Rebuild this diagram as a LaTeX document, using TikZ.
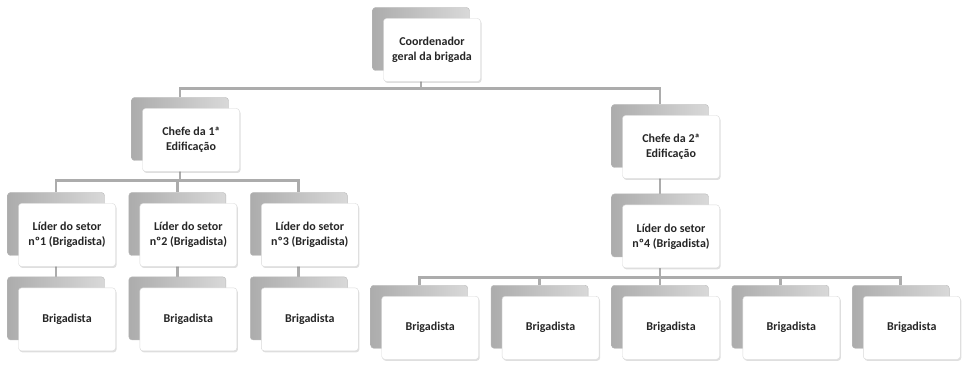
\documentclass[tikz,border=0pt]{standalone}
\usepackage{fontspec}
\setmainfont{Carlito}
\usetikzlibrary{positioning,calc,shadows,backgrounds}

\begin{document}
\begin{tikzpicture}[
  x=1pt, y=-1pt,
  font=\bfseries\fontsize{12}{15}\selectfont,
  card/.style={draw=gray!30, fill=white, rounded corners=3pt, align=center, text=black!85,
    minimum width=97pt, minimum height=63pt, inner sep=2pt,
    general shadow={shadow xshift=-11pt, shadow yshift=11pt, left color=gray!65, right color=gray!30, draw=gray!55},
    drop shadow={shadow xshift=1pt, shadow yshift=-1.5pt, opacity=0.25}},
  conn/.style={draw=gray!65, line width=2.8pt}
]
\useasboundingbox (0,0) rectangle (962,371);

% ---- top ----
\node[card] (geral) at (432,50) {Coordenador\\geral da brigada};

% ---- chefes ----
\node[card] (chefe1) at (191,140) {Chefe da 1ª\\Edificação};
\node[card] (chefe2) at (671,147) {Chefe da 2ª\\Edificação};

% ---- lideres ----
\node[card] (lider1) at (67,235) {Líder do setor\\nº1 (Brigadista)};
\node[card, right=24pt of lider1] (lider2) {Líder do setor\\nº2 (Brigadista)};
\node[card, right=24pt of lider2] (lider3) {Líder do setor\\nº3 (Brigadista)};
\node[card, below=26pt of chefe2] (lider4) {Líder do setor\\nº4 (Brigadista)};

% ---- brigadistas ----
\node[card, below=21pt of lider1] (brig1) {Brigadista};
\node[card, below=21pt of lider2] (brig2) {Brigadista};
\node[card, below=21pt of lider3] (brig3) {Brigadista};
\node[card, below=28pt of lider4] (brig6) {Brigadista};
\node[card, left=23pt of brig6] (brig5) {Brigadista};
\node[card, left=23pt of brig5] (brig4) {Brigadista};
\node[card, right=23pt of brig6] (brig7) {Brigadista};
\node[card, right=23pt of brig7] (brig8) {Brigadista};

% ---- connectors ----
\begin{scope}[on background layer]
\foreach \c in {chefe1,chefe2}
  \draw[conn] ($(geral.south)+(-11,-11)$) -- ++(0,18) -| ($(\c.north)+(-11,-11)$);
\foreach \i in {1,2,3}
  \draw[conn] ($(chefe1.south)+(-11,-11)$) -- ++(0,19.5) -| ($(lider\i.north)+(-11,-11)$);
\draw[conn] ($(chefe2.south)+(-11,-11)$) -- ($(lider4.north)+(-11,-11)$);
\foreach \i in {1,2,3}
  \draw[conn] ($(lider\i.south)+(-11,-11)$) -- ($(brig\i.north)+(-11,-11)$);
\foreach \i in {4,...,8}
  \draw[conn] ($(lider4.south)+(-11,-11)$) -- ++(0,20.5) -| ($(brig\i.north)+(-11,-11)$);
\end{scope}
\end{tikzpicture}
\end{document}
